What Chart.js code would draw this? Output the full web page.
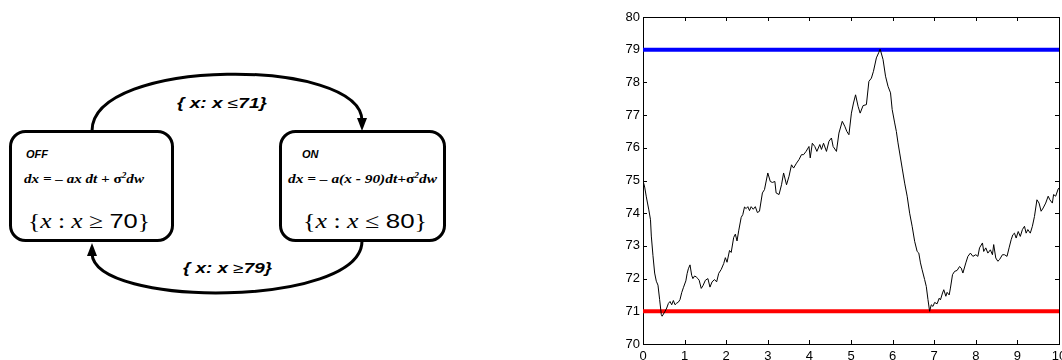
<!DOCTYPE html>
<html>
<head>
<meta charset="utf-8">
<title>Thermostat hybrid system</title>
<script src="https://cdn.jsdelivr.net/npm/chart.js@4.4.1/dist/chart.umd.min.js"></script>
<style>
  body { margin: 0; background: #fff; }
  #page { position: relative; width: 1062px; height: 360px; overflow: hidden; background: #fff; }
  #diagram { position: absolute; left: 0; top: 0; }
  #plotBox { position: absolute; left: 600px; top: 0; width: 462px; height: 360px; }
  .guard { font-family: "Liberation Sans", Arial, sans-serif; font-weight: bold; font-style: italic; font-size: 14px; }
  .mode { font-family: "Liberation Sans", Arial, sans-serif; font-weight: bold; font-style: italic; font-size: 11px; }
  .flow { font-family: "Liberation Serif", "Times New Roman", serif; font-weight: bold; font-style: italic; font-size: 13px; }
  .inv { font-family: "Liberation Serif", "Times New Roman", serif; font-size: 21px; }
</style>
</head>
<body>
<div id="page">
  <svg id="diagram" width="460" height="360">
    <g fill="none" stroke="#000" stroke-width="3">
      <rect x="10.5" y="131.5" width="162" height="109" rx="15"/>
      <rect x="280.5" y="131.5" width="164" height="109" rx="15"/>
      <path d="M92 131 C92 57 362 57 362 121"/>
      <path d="M362 241 C362 308 92 308 92 253"/>
    </g>
    <polygon points="362,131 357,118 367,118" fill="#000"/>
    <polygon points="92,243 87,256 97,256" fill="#000"/>

    <text class="guard" x="177" y="108" textLength="90" lengthAdjust="spacingAndGlyphs">{ x: x <tspan font-weight="normal" font-style="normal">≤</tspan>71}</text>
    <text class="guard" x="183" y="273" textLength="89" lengthAdjust="spacingAndGlyphs">{ x: x <tspan font-weight="normal" font-style="normal">≥</tspan>79}</text>

    <text class="mode" x="26" y="158">OFF</text>
    <text class="flow" x="24" y="183" textLength="120" lengthAdjust="spacingAndGlyphs">dx = – ax dt + <tspan font-style="normal">σ</tspan><tspan font-size="8" dy="-5">2</tspan><tspan dy="5">dw</tspan></text>
    <text class="inv" x="28" y="228" textLength="122" lengthAdjust="spacingAndGlyphs">{<tspan font-style="italic">x</tspan> : <tspan font-style="italic">x</tspan> ≥ <tspan font-family="Liberation Sans, Arial, sans-serif">70</tspan>}</text>

    <text class="mode" x="302" y="158">ON</text>
    <text class="flow" x="288" y="183" textLength="149" lengthAdjust="spacingAndGlyphs">dx = – a(x - 90)dt+<tspan font-style="normal">σ</tspan><tspan font-size="8" dy="-5">2</tspan><tspan dy="5">dw</tspan></text>
    <text class="inv" x="303" y="228" textLength="124" lengthAdjust="spacingAndGlyphs">{<tspan font-style="italic">x</tspan> : <tspan font-style="italic">x</tspan> ≤ <tspan font-family="Liberation Sans, Arial, sans-serif">80</tspan>}</text>
  </svg>

  <div id="plotBox"><canvas id="tempChart" width="462" height="360"></canvas></div>
</div>

<script>
// simulated room temperature trace
const timeValues = [
  0, 0.04, 0.08, 0.14, 0.18, 0.2, 0.24, 0.28, 0.32, 0.36, 0.4, 0.44, 0.46,
  0.53, 0.57, 0.61, 0.65, 0.69, 0.73, 0.77, 0.81, 0.85, 0.89, 0.93, 0.97,
  1.03, 1.06, 1.09, 1.13, 1.17, 1.2, 1.24, 1.28, 1.32, 1.35, 1.4, 1.44, 1.5,
  1.56, 1.61, 1.66, 1.72, 1.77, 1.82, 1.88, 1.94, 1.98, 2.02, 2.08, 2.12,
  2.18, 2.22, 2.26, 2.3, 2.36, 2.4, 2.44, 2.48, 2.52, 2.56, 2.6, 2.65, 2.7,
  2.75, 2.8, 2.87, 2.92, 3.0, 3.06, 3.11, 3.17, 3.2, 3.27, 3.33, 3.38, 3.45,
  3.51, 3.57, 3.62, 3.69, 3.75, 3.81, 3.86, 3.92, 3.99, 4.02, 4.07, 4.13,
  4.18, 4.25, 4.29, 4.34, 4.41, 4.47, 4.53, 4.57, 4.65, 4.71, 4.79, 4.85,
  4.9, 4.95, 5.01, 5.06, 5.11, 5.17, 5.22, 5.29, 5.37, 5.43, 5.49, 5.54,
  5.61, 5.67, 5.7, 5.77, 5.83, 5.89, 5.95, 5.99, 6.05, 6.09, 6.13, 6.17,
  6.23, 6.29, 6.35, 6.41, 6.47, 6.53, 6.59, 6.63, 6.67, 6.71, 6.77, 6.81,
  6.85, 6.89, 6.93, 6.97, 7.01, 7.07, 7.12, 7.15, 7.2, 7.23, 7.28, 7.31,
  7.36, 7.39, 7.44, 7.49, 7.55, 7.61, 7.65, 7.69, 7.76, 7.81, 7.87, 7.93,
  8.0, 8.05, 8.09, 8.16, 8.19, 8.24, 8.29, 8.35, 8.4, 8.43, 8.48, 8.53,
  8.57, 8.64, 8.69, 8.75, 8.8, 8.85, 8.89, 8.93, 8.97, 9.02, 9.07, 9.12,
  9.17, 9.21, 9.25, 9.31, 9.36, 9.41, 9.47, 9.52, 9.57, 9.62, 9.68, 9.74,
  9.78, 9.84, 9.87, 9.92, 9.98, 10.0
];
const tempValues = [
  75.0, 74.8, 74.5, 74.1, 73.8, 73.3, 72.7, 72.17, 71.92, 71.8, 71.36, 70.9, 70.85,
  71.0, 71.1, 71.24, 71.3, 71.2, 71.33, 71.2, 71.25, 71.28, 71.36, 71.57, 71.72,
  71.93, 72.15, 72.3, 72.42, 72.1, 72.0, 72.08, 72.05, 72.0, 71.95, 71.7, 71.78, 71.95,
  72.0, 71.74, 71.9, 71.97, 71.9, 72.16, 72.28, 72.46, 72.64, 72.5, 72.86, 72.8,
  73.26, 73.36, 73.15, 73.46, 73.87, 73.96, 74.19, 74.14, 74.2, 74.08, 74.2, 74.12, 74.2,
  74.02, 74.06, 74.62, 74.72, 75.23, 74.97, 74.94, 74.97, 74.62, 74.57, 74.87, 75.23, 74.87,
  75.13, 75.48, 75.38, 75.53, 75.64, 75.79, 75.79, 75.89, 76.04, 75.69, 76.14, 76.04,
  75.89, 76.1, 75.95, 76.14, 75.89, 76.2, 76.3, 76.04, 75.89, 76.45, 76.81, 76.66,
  76.5, 76.4, 77.06, 77.37, 77.62, 77.27, 77.06, 77.29, 77.32, 78.03, 78.13, 78.34,
  78.75, 78.92, 79.02, 78.7, 78.19, 77.88, 77.68, 77.17, 76.76, 76.5, 76.15, 75.84,
  75.38, 74.92, 74.52, 74.0, 73.6, 73.14, 72.83, 72.78, 72.48, 72.27, 71.97, 71.76,
  71.36, 71.0, 71.2, 71.15, 71.27, 71.23, 71.4, 71.35, 71.56, 71.66, 71.46, 71.58,
  71.5, 71.71, 72.12, 72.22, 72.25, 72.37, 72.32, 72.17, 72.48, 72.68, 72.78, 72.68,
  72.73, 72.68, 72.94, 73.09, 72.83, 72.94, 72.78, 72.88, 72.73, 73.04, 72.63, 72.53,
  72.58, 72.73, 72.73, 72.68, 72.94, 73.19, 73.34, 73.39, 73.24, 73.44, 73.29, 73.5,
  73.6, 73.39, 73.5, 73.39, 73.6, 73.9, 74.41, 74.31, 74.06, 74.16, 74.31, 74.52,
  74.41, 74.31, 74.57, 74.52, 74.74, 74.77
];

// switching thresholds
const upperThreshold = 79;
const lowerThreshold = 71;
const timeRange = [0, 10];

const xTicks = [0, 1, 2, 3, 4, 5, 6, 7, 8, 9, 10];
const yTicks = [70, 71, 72, 73, 74, 75, 76, 77, 78, 79, 80];

const tickFont = { family: 'Arial, "Liberation Sans", Helvetica, sans-serif', size: 13 };

// box around the plot with inward ticks on all four sides
const frameTicks = {
  id: "frameTicks",
  beforeDatasetsDraw(chart) {
    const { ctx, chartArea: a, scales } = chart;
    const len = 4;
    ctx.save();
    ctx.strokeStyle = "#000";
    ctx.lineWidth = 1;
    ctx.strokeRect(Math.round(a.left) + 0.5, Math.round(a.top) + 0.5,
      Math.round(a.right - a.left), Math.round(a.bottom - a.top));
    ctx.beginPath();
    xTicks.forEach(v => {
      const px = Math.round(scales.x.getPixelForValue(v)) + 0.5;
      ctx.moveTo(px, a.bottom); ctx.lineTo(px, a.bottom - len);
      ctx.moveTo(px, a.top); ctx.lineTo(px, a.top + len);
    });
    yTicks.forEach(v => {
      const py = Math.round(scales.y.getPixelForValue(v)) + 0.5;
      ctx.moveTo(a.left, py); ctx.lineTo(a.left + len, py);
      ctx.moveTo(a.right, py); ctx.lineTo(a.right - len, py);
    });
    ctx.stroke();
    ctx.restore();
  }
};

const ctx = document.getElementById("tempChart").getContext("2d");

new Chart(ctx, {
  type: "line",
  data: {
    datasets: [
      {
        label: "temperature",
        data: timeValues.map((t, i) => ({ x: t, y: tempValues[i] })),
        borderColor: "#000",
        borderWidth: 1,
        pointRadius: 0,
        tension: 0
      },
      {
        label: "upper",
        data: timeRange.map(t => ({ x: t, y: upperThreshold })),
        borderColor: "#0000ff",
        borderWidth: 4,
        pointRadius: 0
      },
      {
        label: "lower",
        data: timeRange.map(t => ({ x: t, y: lowerThreshold })),
        borderColor: "#ff0000",
        borderWidth: 4,
        pointRadius: 0
      }
    ]
  },
  options: {
    responsive: false,
    animation: false,
    devicePixelRatio: 1,
    layout: { padding: { left: 0, right: 3, top: 17, bottom: 0 } },
    plugins: {
      legend: { display: false },
      tooltip: { enabled: false }
    },
    scales: {
      x: {
        type: "linear",
        min: 0,
        max: 10,
        grid: { display: false, drawTicks: false },
        border: { display: false },
        afterBuildTicks: s => { s.ticks = xTicks.map(v => ({ value: v })); },
        afterFit: s => { s.height = 16; s.paddingLeft = 0; s.paddingRight = 0; },
        ticks: { color: "#000", font: tickFont, padding: 5, maxRotation: 0, autoSkip: false }
      },
      y: {
        type: "linear",
        min: 70,
        max: 80,
        grid: { display: false, drawTicks: false },
        border: { display: false },
        afterBuildTicks: s => { s.ticks = yTicks.map(v => ({ value: v })); },
        afterFit: s => { s.width = 43; s.paddingTop = 0; s.paddingBottom = 0; },
        ticks: { color: "#000", font: tickFont, padding: 3, autoSkip: false }
      }
    }
  },
  plugins: [frameTicks]
});
</script>
</body>
</html>
